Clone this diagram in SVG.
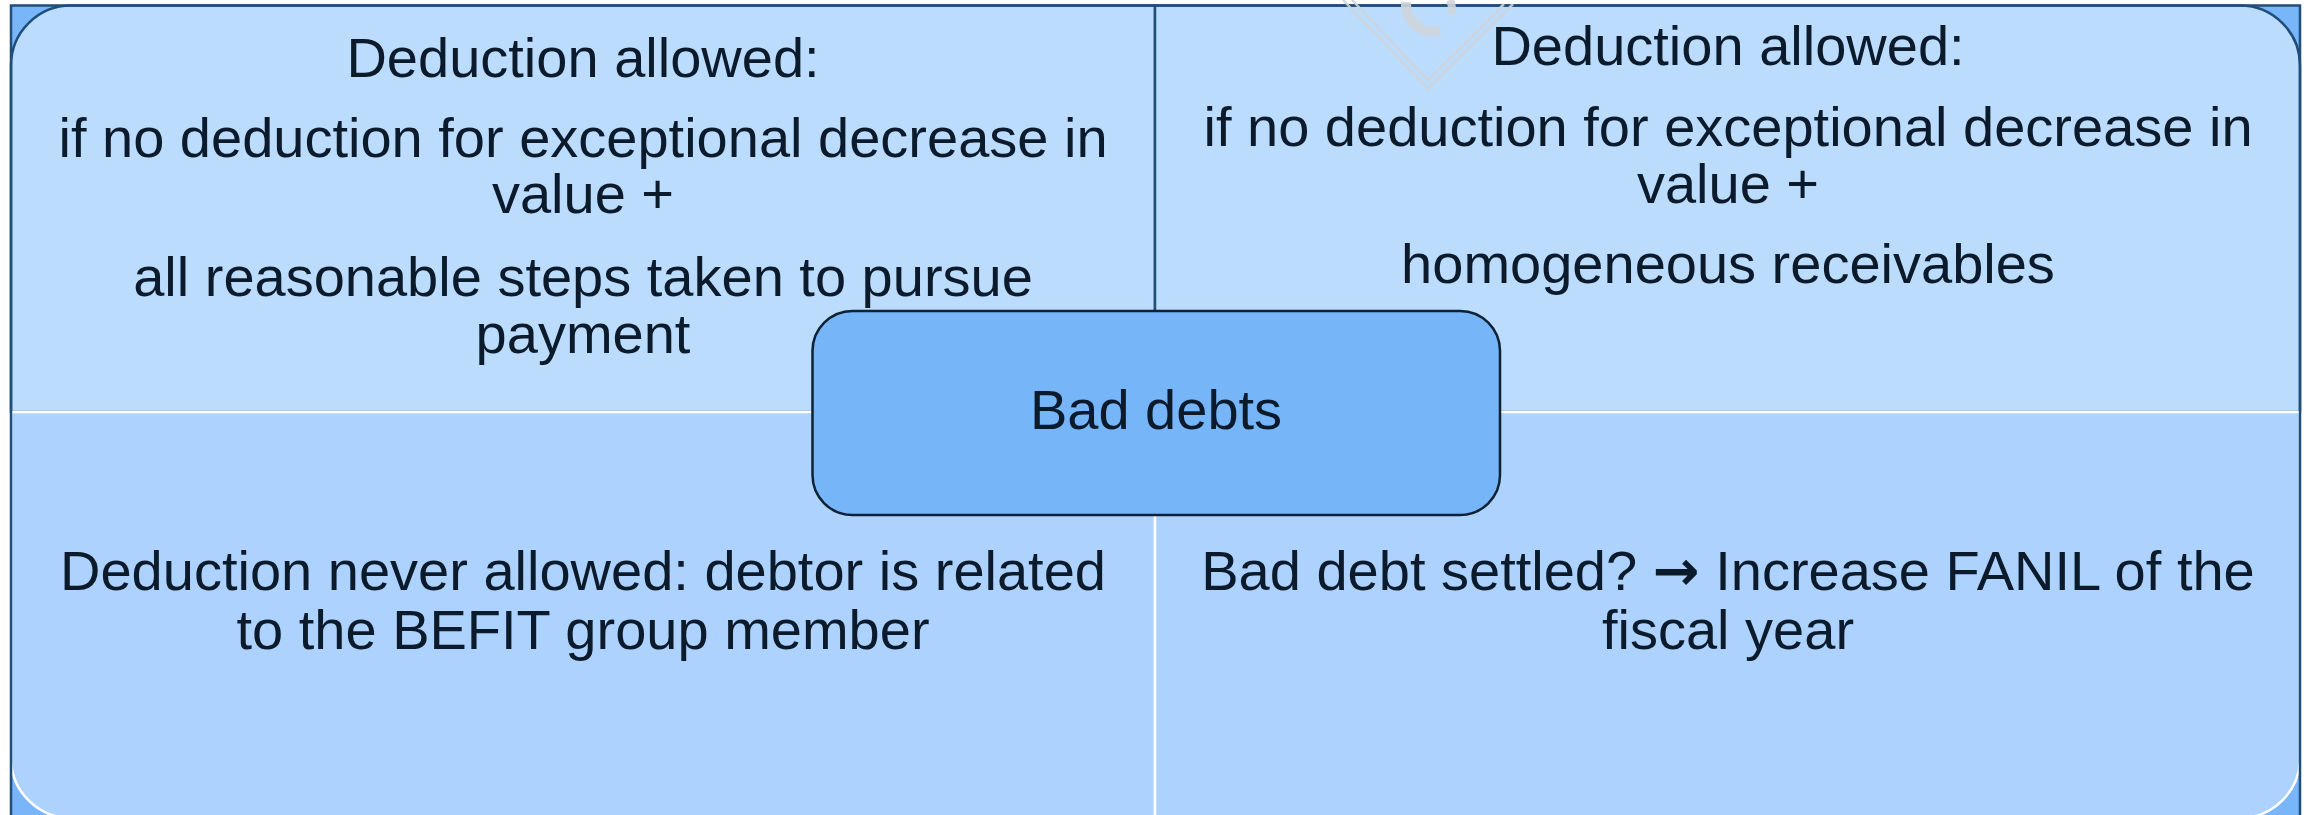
<svg xmlns="http://www.w3.org/2000/svg" width="2310" height="815" viewBox="0 0 2310 815">
<style>
.t{font-family:"Liberation Sans",Arial,sans-serif;font-size:56px;fill:#0c1b2c;text-anchor:middle}
.ar{font-family:"DejaVu Sans",sans-serif;font-weight:bold}
.qt{fill:#bbdcfd;stroke:#1f4e79;stroke-width:2.5}
.qb{fill:#acd2fd;stroke:#ffffff;stroke-width:2.5}
.wm{fill:none;stroke:#cfd5dc;stroke-width:2.5}
</style>
<rect width="2310" height="815" fill="#ffffff"/>
<rect x="11" y="5.5" width="2289" height="830" fill="#78b5f9"/>
<g id="connectors"></g>
<g id="q-top-left">
<path class="qt" d="M11,412 V65.5 A60,60 0 0 1 71,5.5 H1155 V412 Z"/>
<text class="t" x="583" y="77">Deduction allowed:</text>
<text class="t" x="583" y="157">if no deduction for exceptional decrease in</text>
<text class="t" x="583" y="213">value +</text>
<text class="t" x="583" y="296">all reasonable steps taken to pursue</text>
<text class="t" x="583" y="353">payment</text>
</g>
<g id="q-top-right">
<path class="qt" d="M1155,412 V5.5 H2240 A60,60 0 0 1 2300,65.5 V412 Z"/>
<text class="t" x="1728" y="65">Deduction allowed:</text>
<text class="t" x="1728" y="146">if no deduction for exceptional decrease in</text>
<text class="t" x="1728" y="203">value +</text>
<text class="t" x="1728" y="283">homogeneous receivables</text>
</g>
<g id="q-bottom-left">
<path class="qb" d="M11,412 H1155 V818 H71 A60,60 0 0 1 11,758 Z"/>
<text class="t" x="583" y="590">Deduction never allowed: debtor is related</text>
<text class="t" x="583" y="649">to the BEFIT group member</text>
</g>
<g id="q-bottom-right">
<path class="qb" d="M1155,412 H2300 V758 A60,60 0 0 1 2240,818 H1155 Z"/>
<text class="t" x="1728" y="590">Bad debt settled? <tspan class="ar">→</tspan> Increase FANIL of the</text>
<text class="t" x="1728" y="649">fiscal year</text>
</g>
<path d="M11,835 V5.5 H2300 V835" fill="none" stroke="#1f4e79" stroke-width="2.5"/>
<g id="watermark" opacity="0.9">
<path class="wm" d="M1343,0 L1428,89 L1513,4"/>
<path class="wm" d="M1352,0 L1428,80 L1504,4"/>
<path d="M1406,2 A28,28 0 0 0 1440,31" fill="none" stroke="#cfd5dc" stroke-width="10"/>
<path d="M1450,0 A28,28 0 0 1 1452,14" fill="none" stroke="#cfd5dc" stroke-width="8"/>
</g>
<g id="center-node">
<rect x="812.5" y="311" width="687.5" height="204" rx="40" fill="#77b5f9" stroke="#0d2235" stroke-width="2.5"/>
<text class="t" x="1156" y="429">Bad debts</text>
</g>
</svg>
